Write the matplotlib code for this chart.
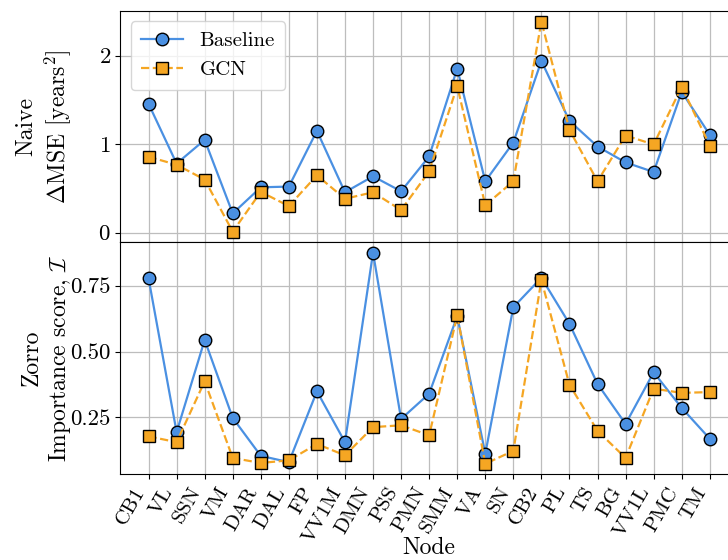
import matplotlib
matplotlib.use("Agg")
import matplotlib.pyplot as plt

plt.rcParams['font.family'] = ['cmr10', 'DejaVu Serif']
plt.rcParams['mathtext.fontset'] = 'cm'
plt.rcParams['axes.formatter.use_mathtext'] = True
plt.rcParams['font.size'] = 16

nodes = ['CB1', 'VL', 'SSN', 'VM', 'DAR', 'DAL', 'FP', 'VV1M', 'DMN', 'PSS', 'PMN',
         'SMM', 'VA', 'SN', 'CB2', 'PL', 'TS', 'BG', 'VV1L', 'PMC', 'TM']

# Naive: delta MSE
naive_baseline = [1.456, 0.78, 1.048, 0.217, 0.512, 0.52, 1.15, 0.456, 0.636, 0.467, 0.861,
                  1.854, 0.58, 1.018, 1.94, 1.262, 0.973, 0.793, 0.685, 1.59, 1.105]
naive_gcn = [0.857, 0.767, 0.599, 0.011, 0.46, 0.30, 0.647, 0.382, 0.456, 0.254, 0.692,
             1.655, 0.31, 0.58, 2.385, 1.161, 0.58, 1.097, 0.996, 1.647, 0.984]

# Zorro: importance score
zorro_baseline = [0.778, 0.194, 0.544, 0.248, 0.104, 0.08, 0.349, 0.156, 0.875, 0.244, 0.34,
                  0.634, 0.112, 0.668, 0.78, 0.605, 0.377, 0.225, 0.421, 0.286, 0.169]
zorro_gcn = [0.178, 0.156, 0.387, 0.096, 0.077, 0.087, 0.149, 0.106, 0.213, 0.22, 0.182,
             0.637, 0.074, 0.123, 0.771, 0.374, 0.199, 0.096, 0.359, 0.343, 0.346]

blue = '#4a90e2'
orange = '#f5a623'

fig = plt.figure(figsize=(7.28, 5.6), dpi=100)
ax1 = fig.add_axes([0.1655, 0.5676, 0.848, 0.4127])
ax2 = fig.add_axes([0.1655, 0.153, 0.848, 0.4146], sharex=ax1)

x = list(range(len(nodes)))
for ax, b, g in [(ax1, naive_baseline, naive_gcn), (ax2, zorro_baseline, zorro_gcn)]:
    ax.plot(x, b, '-o', color=blue, lw=1.6, ms=9, mec='black', mew=1.0, label='Baseline', zorder=3)
    ax.plot(x, g, '--s', color=orange, lw=1.6, ms=8.5, mec='black', mew=1.0, label='GCN', zorder=3)
    ax.grid(True, color='#bdbdbd', lw=0.9)
    ax.set_axisbelow(True)
    ax.tick_params(axis='y', labelsize=16.5)

ax1.set_yticks([0, 1, 2])
ax1.tick_params(axis='x', labelbottom=False)
ax1.set_ylabel('Naive\n$\\Delta$MSE [years$^2$]', fontsize=17)
ax1.yaxis.set_label_coords(-0.077, 0.5)
ax1.legend(loc='upper left', fontsize=15, framealpha=0.8, borderpad=0.5)

ax2.set_yticks([0.25, 0.5, 0.75])
ax2.set_yticklabels(['0.25', '0.50', '0.75'])
ax2.set_xticks(x)
ax2.set_xticklabels(nodes, rotation=60, ha='right', fontsize=15)
ax2.set_ylabel('Zorro\nImportance score, $\\mathcal{I}$', fontsize=17)
ax2.yaxis.set_label_coords(-0.077, 0.5)
ax2.set_xlabel('Node', fontsize=17)
ax2.xaxis.set_label_coords(0.5, -0.27)

fig.savefig('out.png', dpi=100)
